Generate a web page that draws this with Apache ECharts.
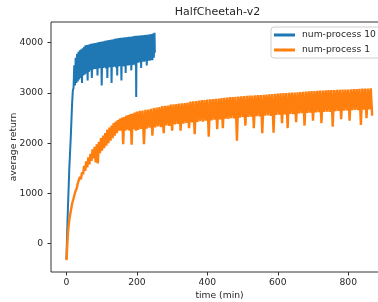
<!DOCTYPE html>
<html>
<head>
<meta charset="utf-8">
<script src="https://cdn.jsdelivr.net/npm/echarts@6/dist/echarts.min.js"></script>
<style>
html,body{margin:0;padding:0;background:#fff;}
#chart{width:378px;height:302px;}
</style>
</head>
<body>
<div id="chart"></div>
<script>
const chartTitle = 'HalfCheetah-v2';
const seriesNames = ['num-process 10', 'num-process 1'];
const xTicks = [0, 200, 400, 600, 800];
const yTicks = [0, 1000, 2000, 3000, 4000];

// num-process 10 : [time (min), average return]
const blueData = [
[0,-300],[2,250],[4,700],[6,1100],[8,1500],[10,1800],[12,2100],[14,2450],[16,2800],[18,3050],
[20,3100],[22,3550],[24,3150],[26,3700],[28,3200],[30,3780],[32,3230],[34,3820],[36,3270],
[38,3850],[40,3300],[42,3870],[44,3200],[46,3890],[48,3350],[50,3920],[52,3370],[54,3950],
[56,3390],[58,3955],[60,3250],[62,3960],[64,3420],[66,3970],[68,3450],[70,3980],[72,3300],
[74,3985],[76,3470],[78,3990],[80,3480],[82,3995],[84,3480],[86,4000],[88,3350],[90,4010],
[92,3490],[94,4015],[96,3500],[98,4020],[100,3150],[102,4025],[104,3500],[106,4030],[108,3510],
[110,4040],[112,3490],[114,4045],[116,3300],[118,4050],[120,3510],[122,4055],[124,3520],
[126,4060],[128,3200],[130,4065],[132,3520],[134,4070],[136,3530],[138,4080],[140,3510],
[142,4085],[144,3350],[146,4090],[148,3530],[150,4095],[152,3540],[154,4100],[156,3250],
[158,4100],[160,3540],[162,4105],[164,3530],[166,4110],[168,3400],[170,4110],[172,3550],
[174,4115],[176,3550],[178,4120],[180,3560],[182,4120],[184,3450],[186,4125],[188,3560],
[190,4130],[192,3570],[194,4135],[196,3550],[197,4140],[198,2920],[199,4140],[200,3600],
[202,4140],[204,3600],[206,4145],[208,3610],[210,4145],[212,3500],[214,4150],[216,3620],
[218,4150],[220,3620],[222,4155],[224,3630],[226,4160],[228,3550],[230,4160],[232,3640],
[234,4165],[236,3640],[238,4170],[240,3650],[242,4175],[244,3650],[246,4185],[248,3700],
[250,4200],[251,3800]
];

// num-process 1 : [time (min), average return]
const orangeData = [
[0,-330],[2,-50],[4,200],[6,350],[8,480],[10,560],[12,640],[14,720],[16,800],[18,850],[20,900],
[23,980],[26,1060],[29,1100],[32,1200],[35,1180],[38,1330],[41,1280],[44,1420],[47,1380],
[50,1550],[53,1450],[56,1640],[59,1520],[62,1720],[65,1580],[68,1790],[71,1650],[74,1880],
[77,1700],[80,1930],[83,1620],[86,1980],[89,1600],[92,2030],[95,1800],[98,2100],[101,1850],
[104,2150],[107,1900],[110,2200],[113,1950],[116,2270],[119,2000],[122,2310],[125,2050],
[128,2350],[131,2100],[134,2400],[137,2150],[140,2430],[143,2200],[146,2460],[149,2250],
[152,2490],[155,2250],[158,2510],[161,1980],[164,2520],[167,2250],[170,2550],[173,2270],
[176,2560],[179,2250],[182,2580],[185,1970],[188,2590],[191,2280],[194,2610],[197,2250],
[200,2630],[204,2265],[208,2645],[212,2285],[216,2650],[220,1980],[224,2665],[228,2290],
[232,2670],[236,2310],[240,2685],[244,2150],[248,2700],[252,2315],[256,2710],[260,2335],
[264,2720],[268,2320],[272,2740],[276,2200],[280,2745],[284,2355],[288,2750],[292,2345],
[296,2770],[300,2250],[304,2775],[308,2375],[312,2780],[316,2385],[320,2790],[324,2250],
[328,2795],[332,2390],[336,2800],[340,2405],[344,2810],[348,2300],[352,2830],[356,2415],
[360,2835],[364,2180],[368,2840],[372,2425],[376,2850],[380,2440],[384,2860],[388,2430],
[392,2860],[396,2450],[400,2870],[404,2130],[408,2875],[412,2455],[416,2880],[420,2470],
[424,2885],[428,2280],[432,2890],[436,2475],[440,2900],[444,2300],[448,2905],[452,2490],
[456,2910],[460,2485],[464,2920],[468,2500],[472,2920],[476,2495],[480,2925],[484,2050],
[488,2930],[492,2510],[496,2935],[500,2520],[504,2940],[508,2350],[512,2945],[516,2525],
[520,2950],[524,2530],[528,2950],[532,2300],[536,2955],[540,2540],[544,2960],[548,2535],
[552,2960],[556,2200],[560,2965],[564,2550],[568,2970],[572,2555],[576,2975],[580,2545],
[584,2980],[588,2210],[592,2985],[596,2565],[600,2990],[604,2570],[608,2995],[612,2400],
[616,3000],[620,2575],[624,3000],[628,2300],[632,3005],[636,2585],[640,3010],[644,2580],
[648,3010],[652,2420],[656,3015],[660,2595],[664,3020],[668,2600],[672,3025],[676,2350],
[680,3030],[684,2605],[688,3035],[692,2610],[696,3040],[700,2450],[704,3040],[708,2615],
[712,3045],[716,2620],[720,3050],[724,2400],[728,3050],[732,2625],[736,3055],[740,2630],
[744,3060],[748,2625],[752,3060],[756,2330],[760,3060],[764,2640],[768,3065],[772,2645],
[776,3065],[780,2480],[784,3070],[788,2650],[792,3070],[796,2655],[800,3070],[804,2450],
[808,3075],[812,2660],[816,3080],[820,2665],[824,3080],[828,2660],[832,3085],[836,2365],
[840,3090],[844,2670],[848,3090],[852,2500],[856,3090],[860,2675],[864,3095],[868,2550]
];

const textColor = '#262626';
const font = 'DejaVu Sans';
const fmt = v => String(v);
const chart = echarts.init(document.getElementById('chart'), null, {renderer: 'canvas'});
chart.setOption({
  animation: false,
  backgroundColor: '#fff',
  title: {
    text: chartTitle, left: 217.5, top: 7, textAlign: 'center', padding: 0,
    textStyle: {fontFamily: font, fontSize: 11, fontWeight: 'normal', color: textColor}
  },
  legend: {
    data: seriesNames, orient: 'vertical', left: 271, top: 27,
    padding: [2.5, 6, 2.5, 3], itemGap: 4, itemWidth: 21, itemHeight: 3,
    icon: 'rect', borderColor: '#d0d0d0', borderWidth: 1, borderRadius: 3,
    backgroundColor: 'rgba(255,255,255,0.8)',
    textStyle: {fontFamily: font, fontSize: 9.2, color: textColor, lineHeight: 11, padding: [0,0,0,2]}
  },
  grid: {left: 51, right: -10, top: 22, bottom: 30, show: true, borderColor: '#333', borderWidth: 1,
         containLabel: false, outerBoundsMode: 'none'},
  xAxis: {
    type: 'value', min: -44, max: 913,
    name: 'time (min)', nameLocation: 'middle', nameGap: 19, nameMoveOverlap: false,
    nameTextStyle: {fontFamily: font, fontSize: 9.2, color: textColor},
    axisLine: {show: false, onZero: false},
    axisTick: {show: true, length: 3.5, lineStyle: {color: '#333'}, customValues: xTicks},
    axisLabel: {fontFamily: font, fontSize: 9.2, color: textColor, margin: 6, customValues: xTicks, formatter: fmt},
    splitLine: {show: false}
  },
  yAxis: {
    type: 'value', min: -563, max: 4413,
    name: 'average return', nameLocation: 'middle', nameGap: 33, nameMoveOverlap: false,
    nameTextStyle: {fontFamily: font, fontSize: 9.2, color: textColor},
    axisLine: {show: false, onZero: false},
    axisTick: {show: true, length: 3.5, lineStyle: {color: '#333'}, customValues: yTicks},
    axisLabel: {fontFamily: font, fontSize: 9.2, color: textColor, margin: 8, customValues: yTicks, formatter: fmt},
    splitLine: {show: false}
  },
  series: [
    {name: seriesNames[0], type: 'line', data: blueData, showSymbol: false, symbol: 'none',
     lineStyle: {color: '#1f77b4', width: 2}, itemStyle: {color: '#1f77b4'}, sampling: null, z: 2},
    {name: seriesNames[1], type: 'line', data: orangeData, showSymbol: false, symbol: 'none',
     lineStyle: {color: '#ff7f0e', width: 2.4}, itemStyle: {color: '#ff7f0e'}, sampling: null, z: 3}
  ]
});
</script>
</body>
</html>
